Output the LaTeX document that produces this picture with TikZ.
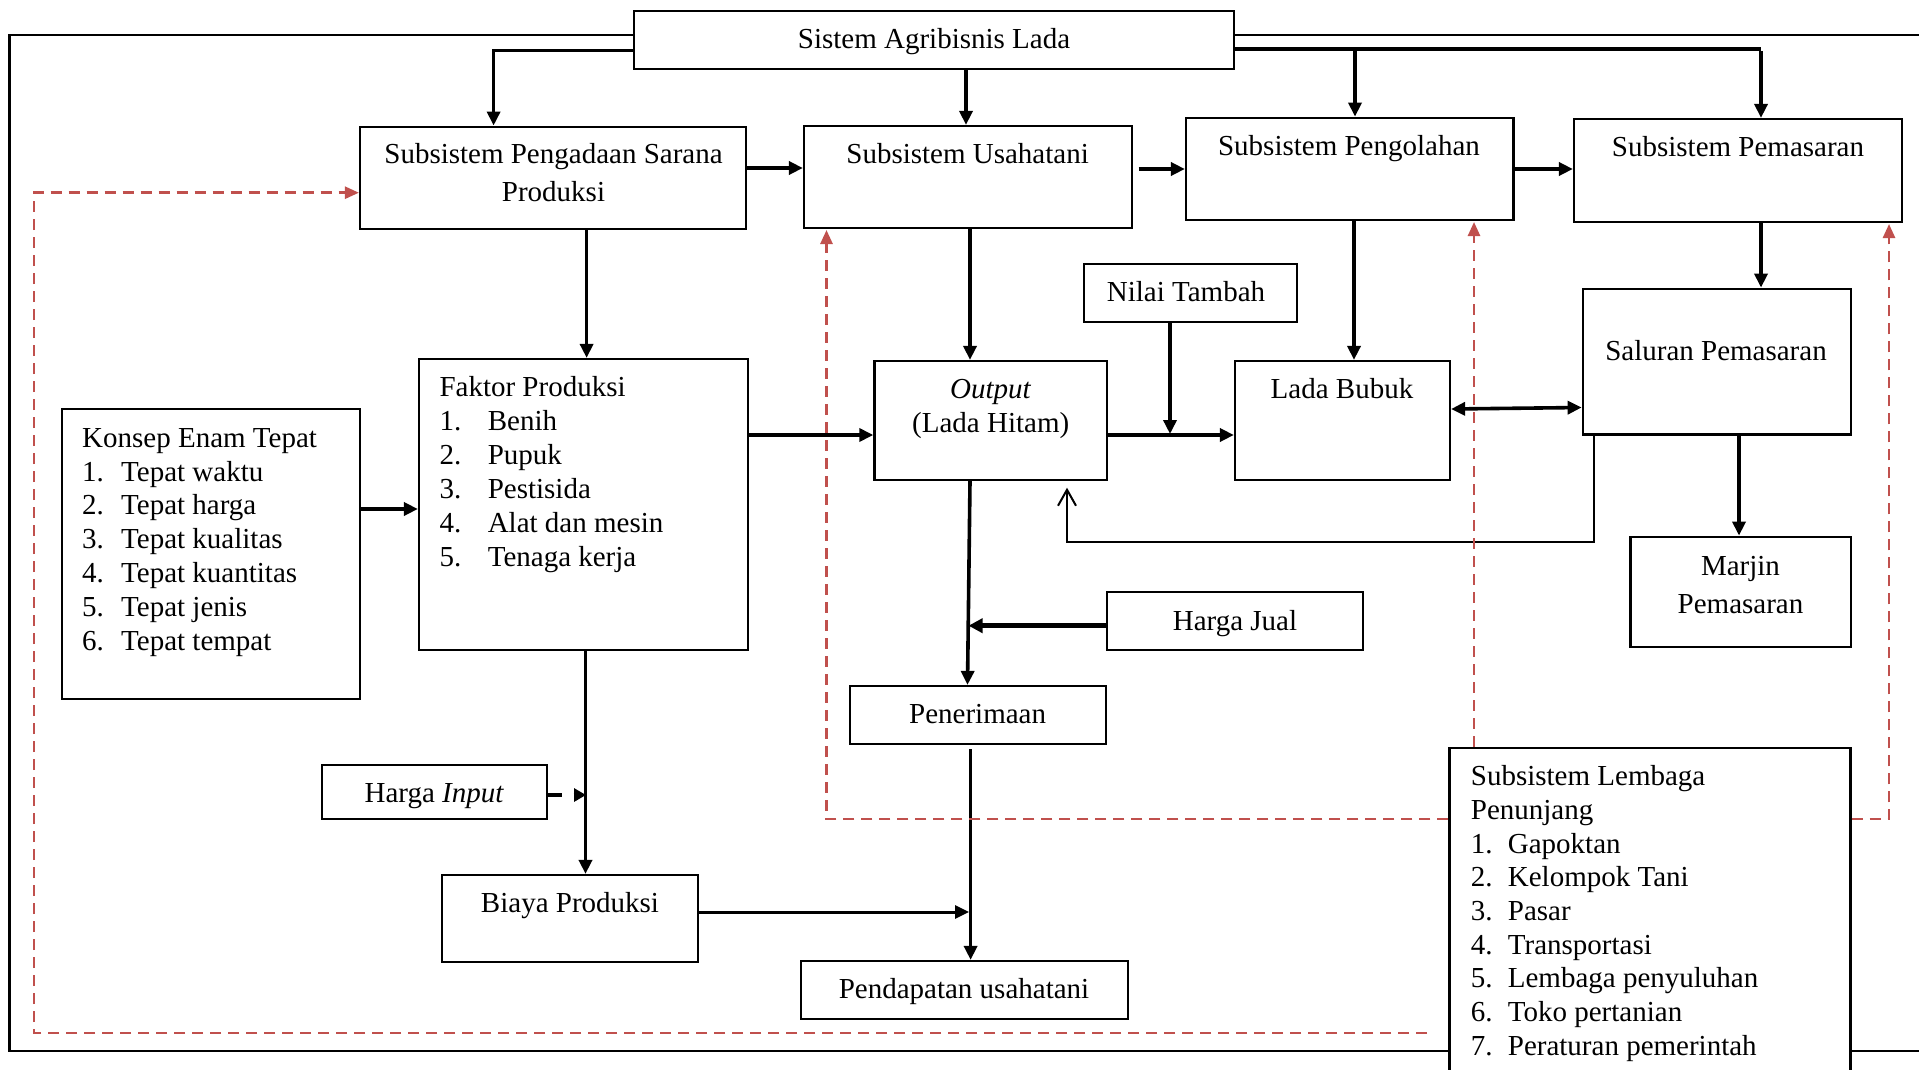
\documentclass[tikz,border=0pt]{standalone}
\usepackage{fontspec}
\setmainfont{Liberation Serif}
\usetikzlibrary{arrows.meta}
\definecolor{dred}{RGB}{192,80,77}
\tikzset{
 box/.style={draw, line width=2.2pt, inner sep=0pt},
 txt/.style={inner sep=0pt, font=\fontsize{29}{34}\selectfont},
 arr/.style={line width=3.6pt, -{Triangle[length=14pt,width=13pt]}},
 link/.style={line width=3.6pt},
 rarr/.style={draw=dred, line width=2.6pt, dash pattern=on 11pt off 7pt, -{Triangle[length=14pt,width=12pt]}},
 frame/.style={line width=2.2pt},
}
\begin{document}
\begin{tikzpicture}[x=1pt,y=-1pt]
\clip (0,0) rectangle (1919,1070);
\fill[white] (0,0) rectangle (1919,1070);

% boxes
\node[box, minimum width=600pt, minimum height=58.3pt] (top) at (934,39.8) {};
\node[box, minimum width=386pt, minimum height=102.3pt] (peng) at (553,177.8) {};
\node[box, minimum width=328pt, minimum height=102pt] (usaha) at (968,177) {};
\node[box, minimum width=327.5pt, minimum height=102.3pt] (olah) at (1349.75,168.85) {};
\node[box, minimum width=328pt, minimum height=102.7pt] (pasar) at (1738,170.35) {};
\node[box, minimum width=298.3pt, minimum height=290pt] (konsep) at (210.85,554) {};
\node[box, minimum width=329pt, minimum height=291pt] (faktor) at (583.5,504.5) {};
\node[box, minimum width=232.6pt, minimum height=119pt] (output) at (990.7,420.5) {};
\node[box, minimum width=213.4pt, minimum height=58pt] (nilai) at (1190.3,293) {};
\node[box, minimum width=215pt, minimum height=119pt] (lada) at (1342.5,420.5) {};
\node[box, minimum width=268.3pt, minimum height=145.8pt] (saluran) at (1716.85,361.6) {};
\node[box, minimum width=220.5pt, minimum height=110.3pt] (marjin) at (1740.75,591.85) {};
\node[box, minimum width=256pt, minimum height=58pt] (hjual) at (1235.3,621) {};
\node[box, minimum width=224.6pt, minimum height=54pt] (hinput) at (434.3,792) {};
\node[box, minimum width=256pt, minimum height=86.7pt] (biaya) at (570,918.35) {};
\node[box, minimum width=256pt, minimum height=58pt] (terima) at (978,715) {};
\node[box, minimum width=326.8pt, minimum height=58pt] (dapat) at (964.4,990) {};
\node[box, minimum width=401pt, minimum height=342pt] (lembaga) at (1650,919) {};

% texts
\node[txt, anchor=base] (t-top) at (934,48.3) {Sistem Agribisnis Lada};
\node[txt, anchor=base] (t-peng1) at (553.5,163.3) {Subsistem Pengadaan Sarana};
\node[txt, anchor=base] (t-peng2) at (553.5,201.7) {Produksi};
\node[txt, anchor=base] (t-usaha) at (967.6,163.3) {Subsistem Usahatani};
\node[txt, anchor=base] (t-olah) at (1349,155.3) {Subsistem Pengolahan};
\node[txt, anchor=base] (t-pasar) at (1738,156.7) {Subsistem Pemasaran};
\node[txt, anchor=base] (t-nilai) at (1186,301.7) {Nilai Tambah};
\node[txt, anchor=base] (t-out1) at (990.7,398.3) {\textit{Output}};
\node[txt, anchor=base] (t-out2) at (990.7,432.7) {(Lada Hitam)};
\node[txt, anchor=base] (t-lada) at (1342,398.3) {Lada Bubuk};
\node[txt, anchor=base] (t-sal) at (1716,360.7) {Saluran Pemasaran};
\node[txt, anchor=base] (t-mar1) at (1740.5,575) {Marjin};
\node[txt, anchor=base] (t-mar2) at (1740.5,613.3) {Pemasaran};
\node[txt, anchor=base] (t-hjual) at (1235,630) {Harga Jual};
\node[txt, anchor=base] (t-hinput) at (434.3,802.7) {Harga \textit{Input}};
\node[txt, anchor=base] (t-biaya) at (570,912.3) {Biaya Produksi};
\node[txt, anchor=base] (t-terima) at (977.6,723.3) {Penerimaan};
\node[txt, anchor=base] (t-dapat) at (964,998.3) {Pendapatan usahatani};

\node[txt, anchor=base west] (k0) at (82,447.3) {Konsep Enam Tepat};
\foreach \t [count=\i] in {Tepat waktu, Tepat harga, Tepat kualitas, Tepat kuantitas, Tepat jenis, Tepat tempat}
  \node[txt, anchor=base west] (k\i) at (82,{447.3+33.8*\i}) {\makebox[39pt][l]{\i.}\t};

\node[txt, anchor=base west] (f0) at (439.3,396.7) {Faktor Produksi};
\foreach \t [count=\i] in {Benih, Pupuk, Pestisida, Alat dan mesin, Tenaga kerja}
  \node[txt, anchor=base west] (f\i) at (439.3,{396.7+33.9*\i}) {\makebox[48.3pt][l]{\i.}\t};

\node[txt, anchor=base west] (l0) at (1470.7,785.7) {Subsistem Lembaga};
\node[txt, anchor=base west] (lp) at (1470.7,819.5) {Penunjang};
\foreach \t [count=\i] in {Gapoktan, Kelompok Tani, Pasar, Transportasi, Lembaga penyuluhan, Toko pertanian, Peraturan pemerintah}
  \node[txt, anchor=base west] (l\i) at (1470.7,{819.5+33.65*\i}) {\makebox[37pt][l]{\i.}\t};

% outer frame
\draw[frame] (top.west |- 0,34.7) -- (9.5,34.7) -- (9.5,1051) -- (lembaga.west |- 0,1051);
\draw[frame] (top.east |- 0,34.7) -- (1930,34.7);
\draw[frame] (lembaga.east |- 0,1051) -- (1930,1051);

% top distribution
\draw[arr] (top.west |- 0,50.7) -- (493.6,50.7) -- (493.6,0 |- peng.north);
\draw[arr] (966,0 |- top.south) -- (966,0 |- usaha.north);
\draw[link] (top.east |- 0,49) -- (1761,49);
\draw[arr] (1355,49) -- (1355,0 |- olah.north);
\draw[arr] (1761,51) -- (1761,0 |- pasar.north);

% subsystem chain
\draw[arr] (peng.east |- 0,168) -- (usaha.west |- 0,168);
\coordinate (u1) at (1138.6,169);
\draw[arr] (u1) -- (olah.west |- 0,169);
\draw[arr] (olah.east |- 0,169) -- (pasar.west |- 0,169);

% production
\draw[arr] (586.6,0 |- peng.south) -- (586.6,0 |- faktor.north);
\draw[arr] (konsep.east |- 0,509) -- (faktor.west |- 0,509);
\draw[arr] (faktor.east |- 0,435) -- (output.west |- 0,435);
\draw[arr] (970,0 |- usaha.south) -- (970,0 |- output.north);
\coordinate (nt) at (1170,434);
\draw[arr] (1170,0 |- nilai.south) -- (nt);
\draw[arr] (output.east |- 0,435) -- (lada.west |- 0,435);
\draw[arr] (1354,0 |- olah.south) -- (1354,0 |- lada.north);
\draw[line width=3.6pt, {Triangle[length=14pt,width=13pt]}-{Triangle[length=14pt,width=13pt]}] (lada.east |- 0,409) -- (saluran.west |- 0,407.5);
\draw[arr] (1761,0 |- pasar.south) -- (1761,0 |- saluran.north);
\draw[arr] (1739,0 |- saluran.south) -- (1739,0 |- marjin.north);
\draw[line width=2pt, -{Straight Barb[length=16pt,width=18pt,line width=2pt]}] (1594.3,0 |- saluran.south) -- (1594.3,542.3) -- (1067,542.3) -- (1067,487.7);

% revenue side
\draw[arr] (970,0 |- output.south) -- (967.5,0 |- terima.north);
\coordinate (hj) at (968.5,625.7);
\draw[line width=4.5pt, -{Triangle[length=14pt,width=14pt]}] (hjual.west |- 0,625.7) -- (hj);
\draw[arr] (970.6,749) -- (970.6,0 |- dapat.north);

% cost side
\draw[arr] (585.5,0 |- faktor.south) -- (585.5,0 |- biaya.north);
\coordinate (hi) at (586,795);
\draw[line width=4.5pt, dash pattern=on 14pt off 12pt, -{Triangle[length=12pt,width=13pt]}] (hinput.east |- 0,795) -- (hi);
\coordinate (bp) at (969,912);
\draw[line width=3pt, -{Triangle[length=14pt,width=13pt]}] (biaya.east |- 0,912) -- (bp);

% red dashed support links
\draw[rarr] (lembaga.west |- 0,819) -- (826.5,819) -- (826.5,230);
\draw[rarr] (1474,0 |- lembaga.north) -- (1474,222);
\draw[rarr] (lembaga.east |- 0,819) -- (1889,819) -- (1889,224);
\coordinate (r0) at (1427,1033);
\draw[rarr] (r0) -- (34,1033) -- (34,192.7) -- (peng.west |- 0,192.7);
\end{tikzpicture}
\end{document}
